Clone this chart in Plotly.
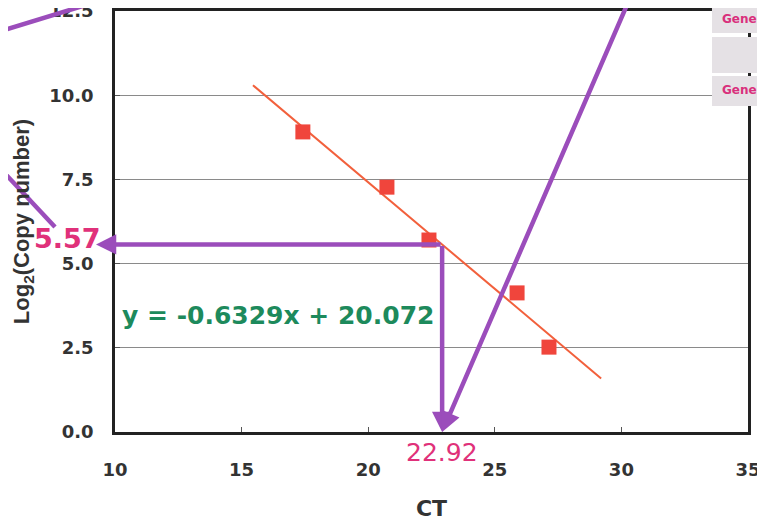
import plotly.graph_objects as go

# ---- data ----
ct_values = [17.42, 20.74, 22.40, 25.88, 27.14]
log2_copy = [8.91, 7.27, 5.70, 4.13, 2.52]
slope = -0.6329
intercept = 20.072
trend_x = [15.45, 29.2]
trend_y = [slope * x + intercept for x in trend_x]
sample_ct = 22.92
sample_log2 = 5.57
x_ticks = [10, 15, 20, 25, 30, 35]
y_ticks = [0.0, 2.5, 5.0, 7.5, 10.0, 12.5]
legend_labels = ["Gene1", "Gene2"]

PURPLE = "#9b4dbb"
PINK = "#e0317a"
GREEN = "#1d8a5c"
TICK = "#333333"

fig = go.Figure()
fig.add_trace(go.Scatter(x=trend_x, y=trend_y, mode="lines",
                         line=dict(color="#f2603c", width=2), showlegend=False,
                         hoverinfo="skip"))
fig.add_trace(go.Scatter(x=ct_values, y=log2_copy, mode="markers",
                         marker=dict(symbol="square", size=15, color="#f0453c"),
                         showlegend=False))

axis_common = dict(showline=True, linecolor="#222222", linewidth=2.5, mirror=True,
                   ticks="inside", ticklen=5, tickcolor="#555555", tickwidth=1,
                   tickfont=dict(family="DejaVu Sans", size=18, color=TICK, weight="bold"),
                   zeroline=False, automargin=False, ticklabeloverflow="allow")

fig.update_xaxes(range=[10, 35], tickvals=x_ticks, ticktext=[str(v) for v in x_ticks],
                 showgrid=False, ticklabelstandoff=20,
                 title=dict(text="CT", standoff=22,
                            font=dict(family="DejaVu Sans", size=22, color=TICK, weight="bold")),
                 **axis_common)
fig.update_yaxes(range=[0, 12.5], tickvals=y_ticks, ticktext=[f"{v:.1f}" for v in y_ticks],
                 showgrid=True, gridcolor="#8a8a8a", gridwidth=1, ticklabelstandoff=15,
                 title=dict(text="Log<sub>2</sub>(Copy number)", standoff=14,
                            font=dict(family="Liberation Sans", size=22, color=TICK, weight="bold")),
                 **axis_common)

annotations = [
    dict(x=-0.019, y=0.46, xref="paper", yref="paper", text=f"{sample_log2:.2f}",
         showarrow=False, xanchor="right", yanchor="middle",
         font=dict(family="DejaVu Sans", size=27, color=PINK, weight="bold")),
    dict(x=sample_ct, y=0, xref="x", yref="y", text=f"{sample_ct:.2f}", showarrow=False,
         xanchor="center", yanchor="top", yshift=-4,
         font=dict(family="DejaVu Sans", size=25, color=PINK)),
    dict(x=10.2, y=3.45, xref="x", yref="y", text=f"y = {slope}x + {intercept}", showarrow=False,
         xanchor="left", yanchor="middle",
         font=dict(family="DejaVu Sans", size=25, color=GREEN, weight="bold")),
    # purple arrows
    dict(x=9.25, y=sample_log2, ax=sample_ct, ay=sample_log2, xref="x", yref="y",
         axref="x", ayref="y", text="", showarrow=True, arrowhead=2, arrowsize=0.9,
         arrowwidth=4.5, arrowcolor=PURPLE),
    dict(x=sample_ct, y=0, ax=sample_ct, ay=sample_log2, xref="x", yref="y",
         axref="x", ayref="y", text="", showarrow=True, arrowhead=2, arrowsize=0.9,
         arrowwidth=4.5, arrowcolor=PURPLE),
    dict(x=sample_ct, y=0, ax=30.75, ay=13.6, xref="x", yref="y",
         axref="x", ayref="y", text="", showarrow=True, arrowhead=2, arrowsize=0.9,
         arrowwidth=4.5, arrowcolor=PURPLE),
]

# legend fragment (at the right edge)
for label, yp in zip(legend_labels, [0.981, 0.812]):
    annotations.append(dict(x=0.955, y=yp, xref="paper", yref="paper", text=label,
                            showarrow=False, xanchor="left", yanchor="middle",
                            font=dict(family="DejaVu Sans", size=12, color="#d9307c", weight="bold")))

shapes = []
for y0, y1 in [(0.9477, 1.03), (0.853, 0.938), (0.7743, 0.8456)]:
    shapes.append(dict(type="rect", xref="paper", yref="paper", x0=0.9431, x1=1.06,
                       y0=y0, y1=y1, fillcolor="#e5e1e5", line=dict(width=0), layer="above"))
# fragments of other purple arrows at the left edge
shapes.append(dict(type="line", xref="paper", yref="paper", x0=-0.19, y0=0.948,
                   x1=-0.005, y1=1.033, line=dict(color=PURPLE, width=4.5), layer="above"))
shapes.append(dict(type="line", xref="paper", yref="paper", x0=-0.19, y0=0.64,
                   x1=-0.0948, y1=0.487, line=dict(color=PURPLE, width=4.5), layer="above"))

# the page body has an 8px default margin, so the figure is sized to compensate
fig.update_layout(width=757, height=518, margin=dict(l=107, r=17, t=3, b=94),
                  paper_bgcolor="white", plot_bgcolor="white",
                  annotations=annotations, shapes=shapes, showlegend=False)

fig.write_html("out.html")
